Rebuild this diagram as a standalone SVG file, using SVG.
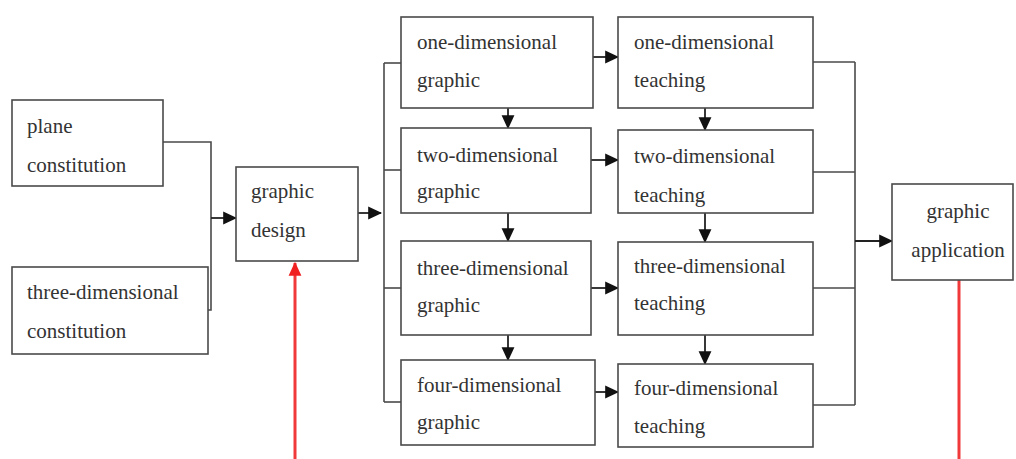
<svg xmlns="http://www.w3.org/2000/svg" width="1016" height="459" viewBox="0 0 1016 459">
<style>
.box{fill:#fff;stroke:#4a4a4a;stroke-width:1.6}
.t{font-family:"Liberation Serif","Times New Roman",serif;font-size:21px;fill:#333}
.c{fill:none;stroke:#4a4a4a;stroke-width:1.6}
.a{fill:none;stroke:#222;stroke-width:1.8;marker-end:url(#ah)}
.r{fill:none;stroke:#f03a3a;stroke-width:3}
</style>
<defs>
<marker id="ah" markerUnits="userSpaceOnUse" markerWidth="14" markerHeight="14" viewBox="0 0 12 12" refX="11" refY="6" orient="auto"><path d="M0,0.5 L12,6 L0,11.5 Z" fill="#111"/></marker>
<marker id="ahr" markerUnits="userSpaceOnUse" markerWidth="14" markerHeight="14" viewBox="0 0 12 12" refX="11" refY="6" orient="auto"><path d="M0,0.5 L12,6 L0,11.5 Z" fill="#f02020"/></marker>
</defs>
<rect width="1016" height="459" fill="#fff"/>
<g id="connectors">
<polyline class="c" points="163,142 211,142 211,310 208,310"/>
<line class="a" x1="211" y1="218" x2="236" y2="218"/>
<line class="a" x1="358" y1="213" x2="381" y2="213"/>
<line class="c" x1="384" y1="63" x2="384" y2="402"/>
<line class="c" x1="384" y1="63" x2="401" y2="63"/>
<line class="c" x1="384" y1="170" x2="401" y2="170"/>
<line class="c" x1="384" y1="288" x2="401" y2="288"/>
<line class="c" x1="384" y1="402" x2="401" y2="402"/>
<line class="a" x1="508" y1="108" x2="508" y2="128"/>
<line class="a" x1="508" y1="213" x2="508" y2="241"/>
<line class="a" x1="508" y1="335" x2="508" y2="360"/>
<line class="a" x1="593" y1="57" x2="618" y2="57"/>
<line class="a" x1="591" y1="160" x2="618" y2="160"/>
<line class="a" x1="591" y1="288" x2="618" y2="288"/>
<line class="a" x1="595" y1="392" x2="618" y2="392"/>
<line class="a" x1="705" y1="108" x2="705" y2="130"/>
<line class="a" x1="705" y1="213" x2="705" y2="242"/>
<line class="a" x1="705" y1="335" x2="705" y2="364"/>
<line class="c" x1="813" y1="62" x2="855" y2="62"/>
<line class="c" x1="813" y1="172" x2="855" y2="172"/>
<line class="c" x1="813" y1="288" x2="855" y2="288"/>
<line class="c" x1="813" y1="405" x2="855" y2="405"/>
<line class="c" x1="855" y1="62" x2="855" y2="405"/>
<line class="a" x1="855" y1="241" x2="892" y2="241"/>
<line class="r" x1="295" y1="459" x2="295" y2="263" marker-end="url(#ahr)"/>
<line class="r" x1="959" y1="280" x2="959" y2="459"/>
</g>
<g id="plane-constitution"><rect class="box" x="12" y="100" width="151" height="86"/><text class="t" x="27" y="133">plane</text><text class="t" x="27" y="172">constitution</text></g>
<g id="three-dimensional-constitution"><rect class="box" x="12" y="267" width="196" height="87"/><text class="t" x="27" y="299">three-dimensional</text><text class="t" x="27" y="338">constitution</text></g>
<g id="graphic-design"><rect class="box" x="236" y="167" width="122" height="94"/><text class="t" x="251" y="198">graphic</text><text class="t" x="251" y="237">design</text></g>
<g id="one-dimensional-graphic"><rect class="box" x="401" y="17" width="192" height="91"/><text class="t" x="417" y="49">one-dimensional</text><text class="t" x="417" y="87">graphic</text></g>
<g id="two-dimensional-graphic"><rect class="box" x="401" y="128" width="190" height="85"/><text class="t" x="417" y="162">two-dimensional</text><text class="t" x="417" y="198">graphic</text></g>
<g id="three-dimensional-graphic"><rect class="box" x="401" y="241" width="190" height="94"/><text class="t" x="417" y="275">three-dimensional</text><text class="t" x="417" y="312">graphic</text></g>
<g id="four-dimensional-graphic"><rect class="box" x="401" y="360" width="194" height="85"/><text class="t" x="417" y="392">four-dimensional</text><text class="t" x="417" y="429">graphic</text></g>
<g id="one-dimensional-teaching"><rect class="box" x="618" y="17" width="195" height="91"/><text class="t" x="634" y="49">one-dimensional</text><text class="t" x="634" y="87">teaching</text></g>
<g id="two-dimensional-teaching"><rect class="box" x="618" y="130" width="195" height="83"/><text class="t" x="634" y="163">two-dimensional</text><text class="t" x="634" y="202">teaching</text></g>
<g id="three-dimensional-teaching"><rect class="box" x="618" y="242" width="195" height="93"/><text class="t" x="634" y="273">three-dimensional</text><text class="t" x="634" y="310">teaching</text></g>
<g id="four-dimensional-teaching"><rect class="box" x="618" y="364" width="195" height="83"/><text class="t" x="634" y="395">four-dimensional</text><text class="t" x="634" y="433">teaching</text></g>
<g id="graphic-application"><rect class="box" x="892" y="184" width="121" height="96"/><text class="t" x="958" y="218" text-anchor="middle">graphic</text><text class="t" x="958" y="257" text-anchor="middle">application</text></g>
</svg>
